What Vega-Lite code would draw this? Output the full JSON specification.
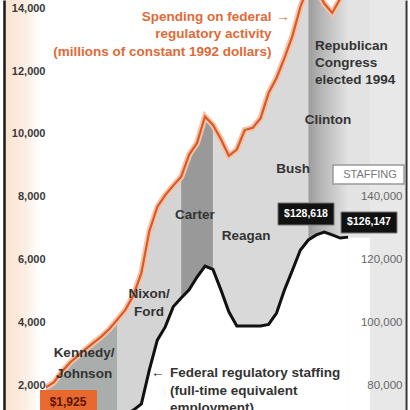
{
  "$schema": "https://vega.github.io/schema/vega-lite/v6.json",
  "width": 410,
  "height": 410,
  "autosize": "none",
  "padding": 0,
  "background": "white",
  "config": {
    "view": {"stroke": null},
    "axis": {"grid": false},
    "text": {"font": "Liberation Sans", "fontWeight": "bold", "fontSize": 13.5, "baseline": "middle"}
  },
  "data": {
    "values": [
      {"year": 1960, "spending": 1925, "staffing": 57000},
      {"year": 1961, "spending": 2090, "staffing": 58000},
      {"year": 1962, "spending": 2420, "staffing": 59500},
      {"year": 1963, "spending": 2710, "staffing": 61000},
      {"year": 1964, "spending": 2930, "staffing": 62000},
      {"year": 1965, "spending": 3140, "staffing": 63000},
      {"year": 1966, "spending": 3350, "staffing": 64500},
      {"year": 1967, "spending": 3550, "staffing": 66000},
      {"year": 1968, "spending": 3790, "staffing": 67500},
      {"year": 1969, "spending": 4090, "staffing": 69000},
      {"year": 1970, "spending": 4400, "staffing": 70500},
      {"year": 1971, "spending": 4860, "staffing": 72000},
      {"year": 1972, "spending": 5570, "staffing": 74000},
      {"year": 1973, "spending": 6900, "staffing": 84800},
      {"year": 1974, "spending": 7670, "staffing": 94300},
      {"year": 1975, "spending": 8050, "staffing": 98500},
      {"year": 1976, "spending": 8350, "staffing": 104900},
      {"year": 1977, "spending": 8630, "staffing": 107700},
      {"year": 1978, "spending": 9330, "staffing": 110300},
      {"year": 1979, "spending": 9710, "staffing": 114400},
      {"year": 1980, "spending": 10550, "staffing": 117900},
      {"year": 1981, "spending": 10280, "staffing": 116800},
      {"year": 1982, "spending": 9830, "staffing": 110300},
      {"year": 1983, "spending": 9300, "staffing": 103300},
      {"year": 1984, "spending": 9500, "staffing": 98800},
      {"year": 1985, "spending": 10120, "staffing": 98800},
      {"year": 1986, "spending": 10190, "staffing": 98800},
      {"year": 1987, "spending": 10500, "staffing": 98800},
      {"year": 1988, "spending": 11300, "staffing": 99300},
      {"year": 1989, "spending": 11780, "staffing": 102900},
      {"year": 1990, "spending": 12420, "staffing": 110300},
      {"year": 1991, "spending": 13120, "staffing": 116600},
      {"year": 1992, "spending": 14040, "staffing": 123000},
      {"year": 1993, "spending": 14700, "staffing": 126200},
      {"year": 1994, "spending": 14600, "staffing": 127800},
      {"year": 1995, "spending": 14150, "staffing": 128700},
      {"year": 1996, "spending": 13850, "staffing": 127800},
      {"year": 1997, "spending": 14300, "staffing": 126800},
      {"year": 1998, "spending": 14600, "staffing": 127100}
    ]
  },
  "resolve": {"scale": {"y": "independent"}, "axis": {"y": "independent"}},
  "layer": [
    {
      "layer": [
        {
          "data": {"values": [{}]},
          "mark": {"type": "rect", "fill": {"gradient": "linear", "x1": 0, "x2": 1, "y1": 0, "y2": 0, "stops": [{"offset": 0, "color": "#fbe2d0"}, {"offset": 0.6, "color": "#fdeee4"}, {"offset": 1, "color": "#ffffff"}]}},
          "encoding": {
            "x": {"datum": 1954.85, "type": "quantitative", "scale": {"domain": [1954.214, 2005.786], "nice": false, "zero": false}, "axis": null},
            "x2": {"datum": 1959.2}
          }
        },
        {
          "data": {"values": [{}]},
          "mark": {"type": "rect", "fill": "#e8e8e8"},
          "encoding": {
            "x": {"datum": 2000.75, "type": "quantitative", "scale": {"domain": [1954.214, 2005.786], "nice": false, "zero": false}, "axis": null},
            "x2": {"datum": 2005.16}
          }
        },
        {
          "data": {"values": [{}]},
          "mark": {"type": "rect", "fill": "#e3e3e3", "clip": true},
          "encoding": {
            "x": {"datum": 1998, "type": "quantitative", "scale": {"domain": [1954.214, 2005.786], "nice": false, "zero": false}, "axis": null},
            "x2": {"datum": 2000.75},
            "y": {"datum": 14262, "type": "quantitative", "scale": {"domain": [1204, 14262], "nice": false, "zero": false}},
            "y2": {"datum": 6700}
          }
        },
        {
          "transform": [{"filter": "datum.year <= 1969"}],
          "mark": {"type": "area", "fill": "#a9adac", "clip": true},
          "encoding": {
            "x": {"field": "year", "type": "quantitative", "scale": {"domain": [1954.214, 2005.786], "nice": false, "zero": false}, "axis": null},
            "y": {"field": "spending", "type": "quantitative", "scale": {"domain": [1204, 14262], "nice": false, "zero": false},
              "axis": {"orient": "left", "offset": -4, "zindex": 2, "values": [2000, 4000, 6000, 8000, 10000, 12000, 14000], "labelExpr": "format(datum.value, ',')", "ticks": false, "domainColor": "#1a1a1a", "domainWidth": 2.5, "labelAlign": "right", "labelBaseline": "middle", "labelPadding": -41, "labelFont": "Liberation Sans", "labelFontSize": 11, "labelFontWeight": "bold", "labelColor": "#3a3a3a", "title": null, "grid": false, "labelFlush": false, "labelOverlap": false, "labelBound": false}}
          }
        },
        {
          "transform": [{"filter": "datum.year >= 1969 && datum.year <= 1977"}],
          "mark": {"type": "area", "fill": "#d4d4d4", "clip": true},
          "encoding": {
            "x": {"field": "year", "type": "quantitative", "scale": {"domain": [1954.214, 2005.786], "nice": false, "zero": false}, "axis": null},
            "y": {"field": "spending", "type": "quantitative", "scale": {"domain": [1204, 14262], "nice": false, "zero": false}}
          }
        },
        {
          "transform": [{"filter": "datum.year >= 1977 && datum.year <= 1981"}],
          "mark": {"type": "area", "fill": "#999999", "clip": true},
          "encoding": {
            "x": {"field": "year", "type": "quantitative", "scale": {"domain": [1954.214, 2005.786], "nice": false, "zero": false}, "axis": null},
            "y": {"field": "spending", "type": "quantitative", "scale": {"domain": [1204, 14262], "nice": false, "zero": false}}
          }
        },
        {
          "transform": [{"filter": "datum.year >= 1981 && datum.year <= 1993"}],
          "mark": {"type": "area", "fill": "#d9d9d9", "clip": true},
          "encoding": {
            "x": {"field": "year", "type": "quantitative", "scale": {"domain": [1954.214, 2005.786], "nice": false, "zero": false}, "axis": null},
            "y": {"field": "spending", "type": "quantitative", "scale": {"domain": [1204, 14262], "nice": false, "zero": false}}
          }
        },
        {
          "transform": [{"filter": "datum.year >= 1993"}],
          "mark": {"type": "area", "clip": true, "fill": {"gradient": "linear", "x1": 0, "x2": 1, "y1": 0, "y2": 0, "stops": [{"offset": 0, "color": "#9c9c9c"}, {"offset": 0.25, "color": "#b0b0b0"}, {"offset": 1, "color": "#e2e2e2"}]}},
          "encoding": {
            "x": {"field": "year", "type": "quantitative", "scale": {"domain": [1954.214, 2005.786], "nice": false, "zero": false}, "axis": null},
            "y": {"field": "spending", "type": "quantitative", "scale": {"domain": [1204, 14262], "nice": false, "zero": false}}
          }
        }
      ]
    },
    {
      "layer": [
        {
          "mark": {"type": "area", "fill": "#ffffff", "clip": true},
          "encoding": {
            "x": {"field": "year", "type": "quantitative", "scale": {"domain": [1954.214, 2005.786], "nice": false, "zero": false}, "axis": null},
            "y": {"field": "staffing", "type": "quantitative", "scale": {"domain": [72040, 202620], "nice": false, "zero": false},
              "axis": {"orient": "right", "offset": -4, "zindex": 2, "values": [80000, 100000, 120000, 140000], "labelExpr": "format(datum.value, ',')", "ticks": false, "domainColor": "#333333", "domainWidth": 2, "labelAlign": "right", "labelBaseline": "middle", "labelPadding": -4, "labelFont": "Liberation Sans", "labelFontSize": 11.5, "labelColor": "#666666", "title": null, "grid": false, "labelFlush": false, "labelOverlap": false, "labelBound": false}}
          }
        },
        {
          "mark": {"type": "line", "color": "#111111", "strokeWidth": 3, "clip": true},
          "encoding": {
            "x": {"field": "year", "type": "quantitative", "scale": {"domain": [1954.214, 2005.786], "nice": false, "zero": false}, "axis": null},
            "y": {"field": "staffing", "type": "quantitative", "scale": {"domain": [72040, 202620], "nice": false, "zero": false}}
          }
        }
      ]
    },
    {
      "encoding": {
        "x": {"type": "quantitative", "scale": {"domain": [1954.214, 2005.786], "nice": false, "zero": false}, "axis": null},
        "y": {"type": "quantitative", "scale": {"domain": [1204, 14262], "nice": false, "zero": false}, "axis": null}
      },
      "layer": [
        {
          "mark": {"type": "line", "color": "#f5c3a5", "strokeWidth": 6, "clip": true},
          "encoding": {"x": {"field": "year"}, "y": {"field": "spending"}}
        },
        {
          "mark": {"type": "line", "color": "#d8592a", "strokeWidth": 2.2, "clip": true},
          "encoding": {"x": {"field": "year"}, "y": {"field": "spending"}}
        },
        {
          "data": {"values": [{}]},
          "mark": {"type": "text", "align": "right", "color": "#df6a38", "lineHeight": 17.5, "text": ["Spending on federal", "regulatory activity", "(millions of constant 1992 dollars)"]},
          "encoding": {"x": {"datum": 1988.37}, "y": {"datum": 13721}}
        },
        {
          "data": {"values": [{}]},
          "mark": {"type": "text", "align": "left", "color": "#df6a38", "text": "→"},
          "encoding": {"x": {"datum": 1988.93}, "y": {"datum": 13721}}
        },
        {
          "data": {"values": [{}]},
          "mark": {"type": "text", "align": "left", "color": "#333333", "lineHeight": 17, "text": ["Republican", "Congress", "elected 1994"]},
          "encoding": {"x": {"datum": 1993.84}, "y": {"datum": 12797}}
        },
        {
          "data": {"values": [{}]},
          "mark": {"type": "text", "align": "center", "color": "#333333", "text": "Clinton"},
          "encoding": {"x": {"datum": 1995.47}, "y": {"datum": 10440}}
        },
        {
          "data": {"values": [{}]},
          "mark": {"type": "text", "align": "center", "color": "#333333", "text": "Bush"},
          "encoding": {"x": {"datum": 1991.07}, "y": {"datum": 8880}}
        },
        {
          "data": {"values": [{}]},
          "mark": {"type": "text", "align": "center", "color": "#333333", "text": "Reagan"},
          "encoding": {"x": {"datum": 1985.16}, "y": {"datum": 6746}}
        },
        {
          "data": {"values": [{}]},
          "mark": {"type": "text", "align": "center", "color": "#333333", "text": "Carter"},
          "encoding": {"x": {"datum": 1978.74}, "y": {"datum": 7414}}
        },
        {
          "data": {"values": [{}]},
          "mark": {"type": "text", "align": "center", "color": "#333333", "lineHeight": 18, "text": ["Nixon/", "Ford"]},
          "encoding": {"x": {"datum": 1972.96}, "y": {"datum": 4898}}
        },
        {
          "data": {"values": [{}]},
          "mark": {"type": "text", "align": "center", "color": "#333333", "lineHeight": 21, "text": ["Kennedy/", "Johnson"]},
          "encoding": {"x": {"datum": 1964.78}, "y": {"datum": 3019}}
        },
        {
          "data": {"values": [{}]},
          "mark": {"type": "text", "align": "left", "color": "#222222", "text": "←"},
          "encoding": {"x": {"datum": 1973.21}, "y": {"datum": 2382}}
        },
        {
          "data": {"values": [{}]},
          "mark": {"type": "text", "align": "left", "color": "#333333", "lineHeight": 17.5, "text": ["Federal regulatory staffing", "(full-time equivalent", "employment)"]},
          "encoding": {"x": {"datum": 1975.6}, "y": {"datum": 2382}}
        },
        {
          "data": {"values": [{}]},
          "mark": {"type": "rect", "fill": "#e8692e", "clip": true},
          "encoding": {"x": {"datum": 1959.25}, "x2": {"datum": 1966.41}, "y": {"datum": 1841}, "y2": {"datum": 1204}}
        },
        {
          "data": {"values": [{}]},
          "mark": {"type": "text", "align": "center", "color": "#5a1500", "fontSize": 12, "text": "$1,925"},
          "encoding": {"x": {"datum": 1962.77}, "y": {"datum": 1459}}
        },
        {
          "data": {"values": [{}]},
          "mark": {"type": "rect", "fill": "#111111", "stroke": "#777777", "strokeWidth": 1},
          "encoding": {"x": {"datum": 1989.18}, "x2": {"datum": 1996.23}, "y": {"datum": 7797}, "y2": {"datum": 7096}}
        },
        {
          "data": {"values": [{}]},
          "mark": {"type": "text", "align": "center", "color": "#ffffff", "fontSize": 10.5, "text": "$128,618"},
          "encoding": {"x": {"datum": 1992.7}, "y": {"datum": 7446}}
        },
        {
          "data": {"values": [{}]},
          "mark": {"type": "rect", "fill": "#111111", "stroke": "#777777", "strokeWidth": 1},
          "encoding": {"x": {"datum": 1997.11}, "x2": {"datum": 2004.15}, "y": {"datum": 7510}, "y2": {"datum": 6841}}
        },
        {
          "data": {"values": [{}]},
          "mark": {"type": "text", "align": "center", "color": "#ffffff", "fontSize": 10.5, "text": "$126,147"},
          "encoding": {"x": {"datum": 2000.63}, "y": {"datum": 7176}}
        },
        {
          "data": {"values": [{}]},
          "mark": {"type": "rect", "fill": "#ffffff", "stroke": "#999999", "strokeWidth": 1.5},
          "encoding": {"x": {"datum": 1996.1}, "x2": {"datum": 2005.03}, "y": {"datum": 9007}, "y2": {"datum": 8402}}
        },
        {
          "data": {"values": [{}]},
          "mark": {"type": "text", "align": "center", "color": "#777777", "fontSize": 11, "fontWeight": "normal", "text": "STAFFING"},
          "encoding": {"x": {"datum": 2000.75}, "y": {"datum": 8689}}
        }
      ]
    }
  ]
}
